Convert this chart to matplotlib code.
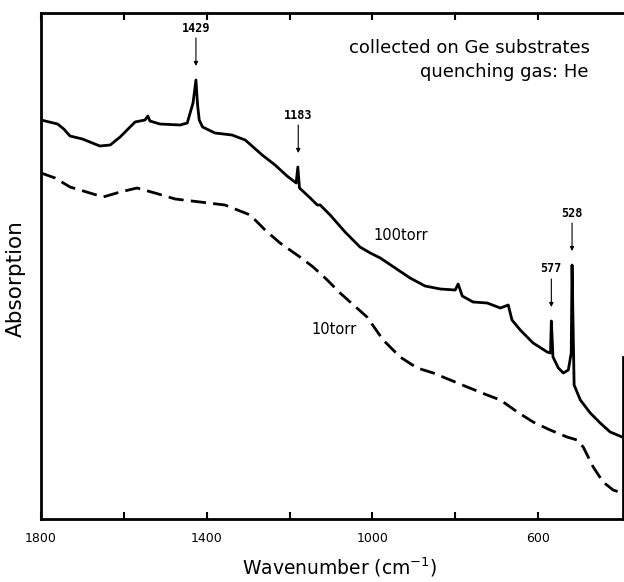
import matplotlib.pyplot as plt
from matplotlib.ticker import FixedLocator, NullFormatter

# Spectrum traces (wavenumber in cm-1, absorption in arbitrary units)
wn_100torr = [1800, 1760, 1745, 1730, 1700, 1682, 1658, 1633, 1609, 1573, 1549, 1542, 1537, 1513,
              1464, 1447, 1433, 1426, 1422, 1418, 1410, 1380, 1339, 1307, 1266, 1235, 1206,
              1184, 1180, 1176, 1150, 1133, 1126, 1102, 1066, 1030, 1005, 981, 945, 909, 873,
              836, 800, 793, 783, 757, 723, 691, 672, 663, 643, 612, 578, 570, 568, 564, 551,
              539, 527, 520, 518, 513, 498, 474, 450, 426, 397]
abs_100torr = [399, 395, 390, 383, 380, 377, 373, 374, 382, 397, 399, 403, 398, 395,
               394, 396, 416, 439, 414, 399, 392, 386, 384, 379, 364, 354, 343,
               336, 352, 331, 321, 314, 314, 304, 287, 272, 266, 261, 251, 241, 233,
               230, 229, 235, 223, 217, 216, 211, 214, 199, 189, 176, 167, 166, 198, 162, 151,
               146, 149, 166, 254, 134, 119, 106, 96, 87, 82]

wn_10torr = [1800, 1766, 1730, 1682, 1650, 1609, 1568, 1525, 1476, 1416, 1356, 1295, 1259,
             1223, 1175, 1143, 1109, 1078, 1013, 974, 933, 892, 853, 812, 771, 723, 691,
             650, 612, 571, 530, 506, 491, 467, 443, 419, 397]
abs_10torr = [346, 341, 332, 326, 322, 327, 331, 326, 320, 317, 314, 304, 289,
              276, 262, 252, 239, 226, 202, 179, 162, 151, 146, 139, 132, 124, 119,
              107, 97, 89, 82, 79, 72, 52, 37, 29, 26]

# Marked bands: label, position of the drawn peak, peak height
peak_labels = ["1429", "1183", "577", "528"]
peak_wn = [1426, 1179, 568, 518]
peak_top = [439, 352, 198, 254]

major_ticks = [1800, 1400, 1000, 600]
minor_ticks = [1600, 1200, 800]

fig = plt.figure(figsize=(6.24, 5.82), dpi=100)
ax = fig.add_axes([41 / 624, 63 / 582, 582 / 624, 506 / 582])

ax.plot(wn_100torr, abs_100torr, color="black", lw=2.0, solid_joinstyle="round")
ax.plot(wn_10torr, abs_10torr, color="black", lw=2.0, linestyle=(0, (5.5, 2.6)))

ax.set_xlim(1800, 395)
ax.set_ylim(0, 506)

# Arrows above the peaks
for lab, x, top in zip(peak_labels, peak_wn, peak_top):
    ax.annotate("", xy=(x, top + 14), xytext=(x, top + 42),
                arrowprops=dict(arrowstyle="-|>", lw=0.8, color="black", mutation_scale=6,
                                shrinkA=0, shrinkB=0))
    ax.text(x, top + 52, lab, ha="center", va="center", fontsize=8.5,
            family="DejaVu Sans Mono", weight="bold")

ax.text(931, 284, "100torr", fontsize=10.5, ha="center", va="center")
ax.text(1092, 190, "10torr", fontsize=10.5, ha="center", va="center")

ax.text(474, 471, "collected on Ge substrates", fontsize=13, ha="right", va="center")
ax.text(478, 447, "quenching gas: He", fontsize=13, ha="right", va="center")

ax.xaxis.set_major_locator(FixedLocator(major_ticks))
ax.xaxis.set_minor_locator(FixedLocator(minor_ticks))
ax.xaxis.set_minor_formatter(NullFormatter())
ax.set_yticks([])
ax.tick_params(axis="x", which="both", direction="in", top=True, length=5, width=1.5,
               labelsize=9, pad=9)

for side in ["left", "bottom", "top", "right"]:
    ax.spines[side].set_linewidth(2.0)
ax.spines["right"].set_bounds(0, 162)

ax.set_xlabel("Wavenumber (cm$^{-1}$)", fontsize=13.5)
ax.xaxis.set_label_coords(0.514, -0.073)
ax.set_ylabel("Absorption", fontsize=15.5)
ax.yaxis.set_label_coords(-0.026, 0.476)

fig.savefig("out.png", dpi=100)
